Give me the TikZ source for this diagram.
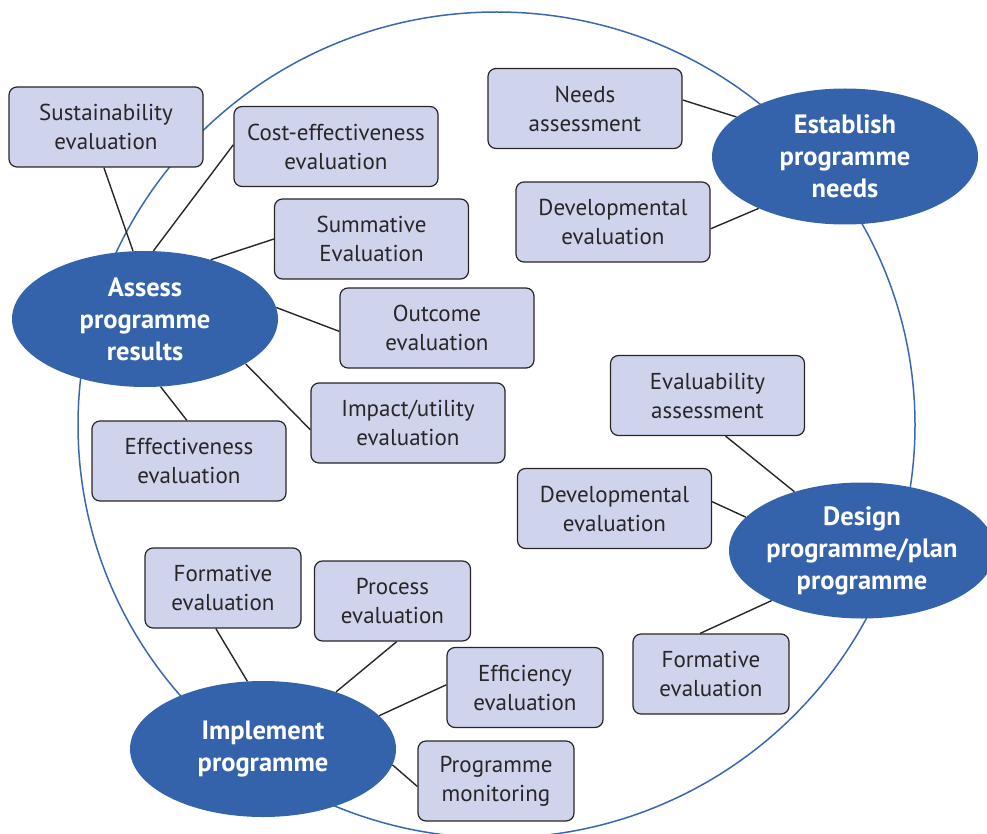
\documentclass[tikz,border=0pt]{standalone}
\usepackage{fontspec}
\setmainfont{PT Sans}
\usetikzlibrary{shapes.geometric, positioning}
\definecolor{boxfill}{RGB}{207,211,236}
\definecolor{ovalblue}{RGB}{53,99,171}
\definecolor{ringblue}{RGB}{58,103,178}
\definecolor{edgegray}{RGB}{40,38,40}

\begin{document}
\begin{tikzpicture}[
    x=1pt, y=-1pt,
    box/.style={draw=edgegray, line width=1.2pt, rounded corners=8pt, fill=boxfill, minimum width=194pt, minimum height=80pt, align=center, text=edgegray, font=\fontsize{23}{29}\selectfont, inner sep=0pt},
    smallbox/.style={box, minimum width=156pt},
    stage/.style={ellipse, fill=ovalblue, minimum width=266pt, minimum height=136pt, inner xsep=-30pt, inner ysep=0pt, align=center, text=white, font=\fontsize{26.5}{32}\selectfont\bfseries},
    link/.style={line width=1.4pt, edgegray},
    ring/.style={draw=ringblue, line width=1.5pt},
  ]
  \useasboundingbox (0,0) rectangle (987,834);
  \draw[ring] (496.5,425) ellipse [x radius=418.5, y radius=413];

  % the four stages
  \node[stage] (assess) at (145,319) {Assess\\programme\\results};
  \node[stage] (establish) at (845,156.5) {Establish\\programme\\needs};
  \node[stage] (design) at (862,550.5) {Design\\programme/plan\\programme};
  \node[stage] (implement) at (263,749) {Implement\\programme};

  % evaluation types
  \node[box] (sustain) at (106,127) {Sustainability\\evaluation};
  \node[box, minimum width=204pt] (costeff) at (336,146.5) {Cost-effectiveness\\evaluation};
  \node[box] (summative) at (371.5,239) {Summative\\Evaluation};
  \node[box] (outcome) at (437,328) {Outcome\\evaluation};
  \node[box] (impact) at (408,423) {Impact/utility\\evaluation};
  \node[box] (effective) at (189,461) {Effectiveness\\evaluation};
  \node[box] (needs) at (585,108.5) {Needs\\assessment};
  \node[box] (develA) at (613,222) {Developmental\\evaluation};
  \node[box] (evaluab) at (707.5,395.5) {Evaluability\\assessment};
  \node[box] (develB) at (614.5,508.5) {Developmental\\evaluation};
  \node[smallbox] (formR) at (711,674) {Formative\\evaluation};
  \node[smallbox] (formL) at (223,588) {Formative\\evaluation};
  \node[smallbox] (process) at (392.5,601) {Process\\evaluation};
  \node[smallbox] (efficiency) at (525,687.5) {Efficiency\\evaluation};
  \node[smallbox] (monitor) at (496,781) {Programme\\monitoring};

  \draw[link] (sustain.-93) -- (assess.100);
  \draw[link] (costeff.179) -- (assess.83);
  \draw[link] (summative.180) -- (assess.42);
  \draw[link] (outcome.182) -- (assess.5);
  \draw[link] (impact.184) -- (assess.-24);
  \draw[link] (effective.93) -- (assess.-77);
  \draw[link] (needs.5) -- (establish.160);
  \draw[link] (develA.-4) -- (establish.211);
  \draw[link] (evaluab.-66) -- (design.139);
  \draw[link] (develB.4) -- (design.164);
  \draw[link] (formR.105) -- (design.209);
  \draw[link] (formL.-100) -- (implement.103);
  \draw[link] (process.-84) -- (implement.38);
  \draw[link] (efficiency.178) -- (implement.16);
  \draw[link] (monitor.184) -- (implement.-7);
\end{tikzpicture}
\end{document}
